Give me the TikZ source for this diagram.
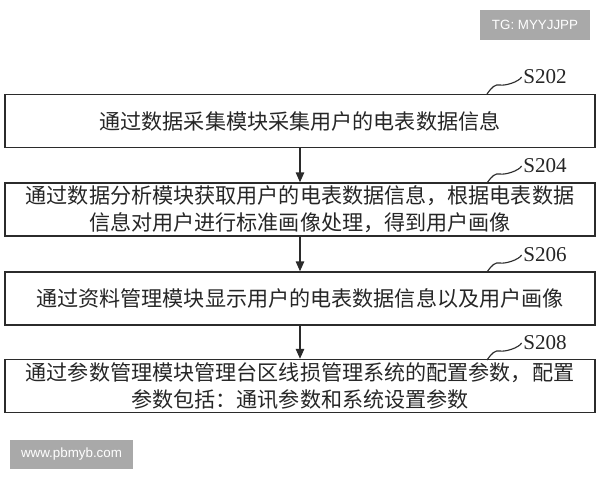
\documentclass[tikz,border=0pt]{standalone}
\usepackage{fontspec}
\newfontfamily\cjk{Noto Sans CJK SC}
\newfontfamily\labelfont{Liberation Serif}
\newfontfamily\markfont{Liberation Sans}
\usetikzlibrary{arrows.meta}
\definecolor{linegray}{HTML}{2B2B2B}
\definecolor{markgray}{HTML}{A9A9A9}

\tikzstyle{stepbox}=[draw=linegray, line width=0.9pt, minimum width=14.75cm, minimum height=1.33cm, inner sep=0pt, text width=14.3cm, align=center, text=black!85, font=\cjk\fontsize{15}{19.2}\selectfont]
\tikzstyle{steplabel}=[inner sep=1pt, text=black!85, font=\labelfont\fontsize{15}{18}\selectfont]
\tikzstyle{squig}=[draw=linegray, line width=0.8pt]
\tikzstyle{flow}=[draw=linegray, line width=0.9pt, -{Triangle[length=7pt,width=6pt]}]
\tikzstyle{wmark}=[fill=markgray, text=white, inner sep=0pt, font=\markfont\fontsize{9.5}{11}\selectfont]

\begin{document}
\begin{tikzpicture}[x=0.025cm, y=-0.025cm]
\useasboundingbox (0,0) rectangle (600,480);

\node[wmark, minimum width=2.75cm, minimum height=0.75cm] (tg) at (535,25) {TG: MYYJJPP};
\node[wmark, minimum width=3.075cm, minimum height=0.725cm] (www) at (71.5,454.5) {www.pbmyb.com};

\node[stepbox] (step1) at (300,121) {通过数据采集模块采集用户的电表数据信息};
\node[stepbox] (step2) at (300,209.5) {通过数据分析模块获取用户的电表数据信息，根据电表数据\\信息对用户进行标准画像处理，得到用户画像};
\node[stepbox] (step3) at (300,298.5) {通过资料管理模块显示用户的电表数据信息以及用户画像};
\node[stepbox] (step4) at (300,386) {通过参数管理模块管理台区线损管理系统的配置参数，配置\\参数包括：通讯参数和系统设置参数};

\draw[flow] (step1) -- (step2);
\draw[flow] (step2) -- (step3);
\draw[flow] (step3) -- (step4);

\node[steplabel] (s1) at (545,77) {S202};
\node[steplabel] (s2) at (545,166) {S204};
\node[steplabel] (s3) at (545,255) {S206};
\node[steplabel] (s4) at (545,343) {S208};

\coordinate (t1) at (487,94);
\coordinate (t2) at (487,183);
\coordinate (t3) at (487,272);
\coordinate (t4) at (487,360);

\draw[squig] (t1) .. controls +(5,-7) and +(-5,-1) .. ++(13,-9) .. controls +(5,1) and +(-3,5) .. (s1.west);
\draw[squig] (t2) .. controls +(5,-7) and +(-5,-1) .. ++(13,-9) .. controls +(5,1) and +(-3,5) .. (s2.west);
\draw[squig] (t3) .. controls +(5,-7) and +(-5,-1) .. ++(13,-9) .. controls +(5,1) and +(-3,5) .. (s3.west);
\draw[squig] (t4) .. controls +(5,-7) and +(-5,-1) .. ++(13,-9) .. controls +(5,1) and +(-3,5) .. (s4.west);
\end{tikzpicture}
\end{document}
